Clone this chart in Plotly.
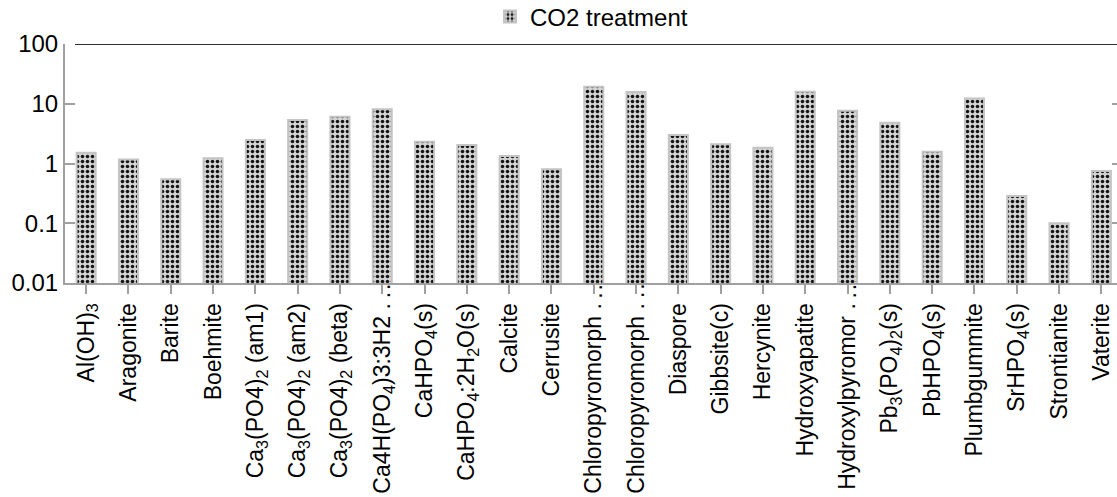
import plotly.graph_objects as go

# Saturation indices of mineral phases under CO2 treatment
minerals = [
    "Al(OH)<sub>3</sub>", "Aragonite", "Barite", "Boehmite",
    "Ca<sub>3</sub>(PO4)<sub>2</sub> (am1)", "Ca<sub>3</sub>(PO4)<sub>2</sub> (am2)",
    "Ca<sub>3</sub>(PO4)<sub>2</sub> (beta)", "Ca4H(PO<sub>4</sub>)3:3H2 .",
    "CaHPO<sub>4</sub>(s)", "CaHPO<sub>4</sub>:2H<sub>2</sub>O(s)", "Calcite", "Cerrusite",
    "Chloropyromorph .", "Chloropyromorph .", "Diaspore", "Gibbsite(c)",
    "Hercynite", "Hydroxyapatite", "Hydroxylpyromor .",
    "Pb<sub>3</sub>(PO<sub>4</sub>)<sub>2</sub>(s)", "PbHPO<sub>4</sub>(s)", "Plumbgummite",
    "SrHPO<sub>4</sub>(s)", "Strontianite", "Vaterite",
]
# labels that were cut short carry a trailing ellipsis running up to the axis
truncated = [7, 12, 13, 18]
co2_values = [
    1.52, 1.17, 0.545, 1.22,
    2.47, 5.35,
    6.07, 8.07,
    2.32, 2.04, 1.34, 0.80,
    19.3, 15.8, 3.0, 2.10,
    1.84, 15.9, 7.65,
    4.82, 1.58, 12.3,
    0.286, 0.10, 0.75,
]
y_tick_vals = [0.01, 0.1, 1, 10, 100]
y_tick_text = ["0.01", "0.1", "1", "10", "100"]

positions = list(range(len(minerals)))
FONT = "Liberation Sans, Arial, sans-serif"
FONT_SIZE = 24
X_FONT_SIZE = 23
AXIS_GRAY = "#a0a0a0"
PLOT_H = 497 - 44 - 214

fig = go.Figure()
fig.add_trace(go.Bar(
    x=positions,
    y=co2_values,
    name="CO2 treatment",
    width=0.45,
    marker=dict(
        color="#d4d4d4",
        line=dict(color="#c4c4c4", width=2),
        pattern=dict(shape=".", size=5, solidity=0.4,
                     fgcolor="#151515", bgcolor="#d4d4d4", fillmode="replace"),
    ),
))
# invisible carrier for the right-hand tick axis
fig.add_trace(go.Scatter(
    x=[positions[0]], y=[1], yaxis="y2", mode="markers",
    marker=dict(opacity=0), showlegend=False, hoverinfo="skip",
))

ellipsis_notes = [
    dict(x=i, xref="x", yref="paper", y=-(291 - 283) / PLOT_H,
         text=".\u200a.", textangle=-90, showarrow=False,
         font=dict(family=FONT, size=X_FONT_SIZE, color="black"),
         xanchor="center", yanchor="middle")
    for i in truncated
]

fig.update_layout(
    width=1117, height=497,
    margin=dict(l=65, r=0, t=44, b=214, autoexpand=False),
    paper_bgcolor="white", plot_bgcolor="white",
    font=dict(family=FONT, size=FONT_SIZE, color="black"),
    showlegend=True,
    legend=dict(
        orientation="h", x=0.404, xanchor="left",
        yref="paper", y=(283 - 17) / PLOT_H, yanchor="middle",
        font=dict(family=FONT, size=FONT_SIZE, color="black"),
        bgcolor="rgba(0,0,0,0)",
    ),
    xaxis=dict(
        range=[-0.5, 24.37], automargin=False,
        tickmode="array", tickvals=positions, ticktext=minerals,
        tickangle=-90, tickson="boundaries",
        ticks="outside", ticklen=9, tickwidth=1.5, tickcolor=AXIS_GRAY,
        showline=True, linecolor=AXIS_GRAY, linewidth=2,
        showgrid=False, zeroline=False,
        ticklabelstandoff=0,
        tickfont=dict(family=FONT, size=X_FONT_SIZE, color="black"),
    ),
    yaxis=dict(
        type="log", range=[-2, 2], automargin=False,
        tickmode="array", tickvals=y_tick_vals, ticktext=y_tick_text,
        ticks="inside", ticklen=10, tickwidth=2, tickcolor=AXIS_GRAY,
        showline=True, linecolor=AXIS_GRAY, linewidth=2,
        showgrid=False, zeroline=False,
        ticklabelstandoff=0,
        tickfont=dict(family=FONT, size=FONT_SIZE, color="black"),
    ),
    yaxis2=dict(
        type="log", range=[-2, 2], overlaying="y", side="right", anchor="x",
        automargin=False,
        tickmode="array", tickvals=[0.1, 1, 10],
        ticks="inside", ticklen=5, tickwidth=2, tickcolor=AXIS_GRAY,
        showticklabels=False, showline=False, showgrid=False, zeroline=False,
    ),
    shapes=[dict(
        type="line", xref="paper", yref="y",
        x0=0.0095, x1=1, y0=100, y1=100,
        line=dict(color="#303030", width=2),
    )],
    annotations=ellipsis_notes,
)

fig.write_html("out.html")
